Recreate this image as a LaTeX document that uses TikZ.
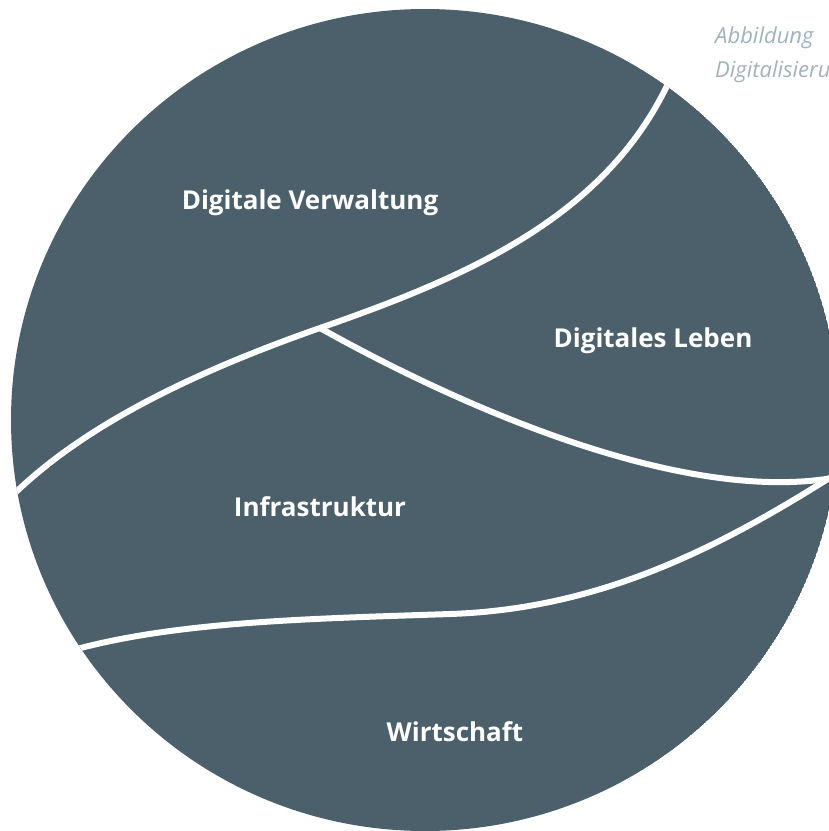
\documentclass[tikz,border=0pt]{standalone}
\usepackage{fontspec}
\setmainfont{Open Sans}
\definecolor{slate}{RGB}{75,96,107}
\definecolor{capgrey}{RGB}{160,178,190}
\tikzset{
  field/.style={text=white, anchor=base, inner sep=0pt, font=\bfseries\fontsize{26}{30}\selectfont},
  caption/.style={text=capgrey, anchor=base west, inner sep=0pt, font=\itshape\fontsize{22}{26}\selectfont},
  seam/.style={white, line width=6pt, line join=round}
}
\begin{document}
\begin{tikzpicture}[x=1pt,y=-1pt]
\useasboundingbox (0,0) rectangle (829,831);

\begin{scope}
\clip (425,420) ellipse [x radius=414, y radius=411];
\fill[slate] (425,420) ellipse [x radius=414, y radius=411];
\coordinate (hub) at (320,328);
\coordinate (east) at (826,479);
% boundaries between the fields
\draw[seam] (5,503) .. controls (80,425) and (200,370) .. (hub)
  .. controls (470,276) and (610,215) .. (672,75);
\draw[seam] (hub) .. controls (470,412) and (680,500) .. (east) -- (842,478);
\draw[seam] (66,652) .. controls (170,622) and (300,619) .. (450,614)
  .. controls (600,609) and (720,548) .. (842,470);
\end{scope}

\node[field] (verwaltung) at (310,209) {Digitale Verwaltung};
\node[field] (leben) at (653,347) {Digitales Leben};
\node[field] (infra) at (320,516) {Infrastruktur};
\node[field] (wirtschaft) at (455,741) {Wirtschaft};

\begin{scope}
\clip (0,0) rectangle (829,831);
\node[caption] (abb) at (715,43) {Abbildung};
\node[caption] (digi) at (715,77) {Digitalisierung};
\end{scope}
\end{tikzpicture}
\end{document}
